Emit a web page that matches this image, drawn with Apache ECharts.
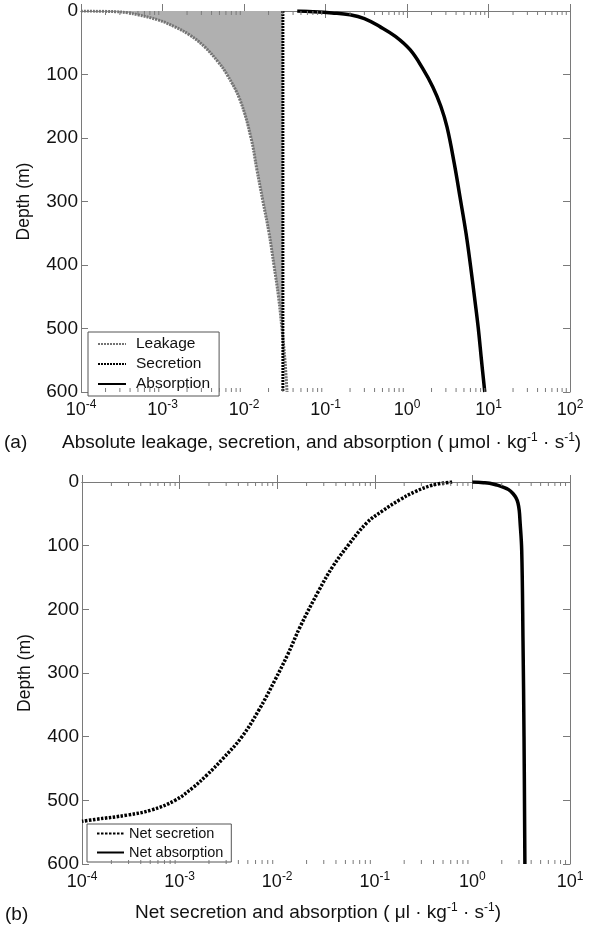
<!DOCTYPE html>
<html>
<head>
<meta charset="utf-8">
<script src="https://cdn.jsdelivr.net/npm/echarts@6/dist/echarts.min.js"></script>
<style>html,body{margin:0;padding:0;background:#fff}#c{width:600px;height:935px}</style>
</head>
<body>
<div id="c"></div>
<script>
// ---- Panel (a) data ----
const depthsLeak = [0, 1, 3, 6, 14, 25, 38, 57, 80, 100, 140, 200, 250, 300, 350, 400, 450, 500, 550, 600];
const leakage = [1.0e-4, 2.6e-4, 3.8e-4, 5.0e-4, 8.8e-4, 1.42e-3, 2.17e-3, 3.32e-3, 4.8e-3, 6.18e-3, 8.93e-3, 0.0122, 0.0144, 0.0171, 0.0203, 0.0233, 0.0265, 0.0292, 0.0318, 0.0337];
const depthsSec = [0, 600];
const secretion = [0.030, 0.030];
const depthsAbs = [0, 1, 3, 6, 12, 25, 40, 61, 90, 120, 150, 183, 240, 293, 350, 400, 455, 500, 550, 600];
const absorption = [0.045, 0.07, 0.12, 0.20, 0.30, 0.47, 0.72, 1.09, 1.55, 2.08, 2.6, 3.1, 3.8, 4.47, 5.3, 6.0, 6.8, 7.5, 8.2, 9.0];
// ---- Panel (b) data ----
const depthsNetSec = [0, 5, 15, 28, 45, 64, 100, 133, 170, 228, 270, 311, 358, 400, 436, 460, 480, 500, 515, 523, 530, 533];
const netSecretion = [0.62, 0.39, 0.26, 0.18, 0.121, 0.083, 0.053, 0.037, 0.0268, 0.0171, 0.0129, 0.0095, 0.0065, 0.00436, 0.00272, 0.00191, 0.00137, 0.0009, 0.00052, 0.000296, 0.000136, 0.0001];
const depthsNetAbs = [0, 1, 2, 5, 8, 12, 18, 25, 33, 45, 60, 107, 250, 400, 600];
const netAbsorption = [1.0, 1.3, 1.5, 1.8, 2.06, 2.35, 2.6, 2.8, 2.93, 3.02, 3.07, 3.2, 3.3, 3.38, 3.45];
// ---- axes ----
const depthTicks = [0, 100, 200, 300, 400, 500, 600];
const xRangeA = [1e-4, 1e2];
const xRangeB = [1e-4, 1e1];
const minorMultipliers = [2, 3, 4, 5, 6, 7, 8, 9];

function minorTicks(range) {
  const out = [];
  const lo = Math.round(Math.log10(range[0])), hi = Math.round(Math.log10(range[1]));
  for (let k = lo; k < hi; k++) minorMultipliers.forEach(m => out.push([m * Math.pow(10, k), 0]));
  return out;
}
function pairs(xs, ys) { return xs.map((x, i) => [x, ys[i]]); }

const FONT = "'Liberation Sans', Arial, sans-serif";
const AX = '#7a7a7a';
const TXT = '#111';
const labelRich = {
  b: { fontSize: 18, fontFamily: FONT, color: TXT },
  s: { fontSize: 12, fontFamily: FONT, color: TXT, padding: [0, 0, 10, 0] }
};
function xLabel(v) { const e = Math.round(Math.log10(v)); return '{b|10}{s|' + e + '}'; }

function xAxes(grid, range) {
  return [
    { type: 'log', logBase: 10, gridIndex: grid, min: range[0], max: range[1], position: 'bottom',
      axisLine: { lineStyle: { color: AX } }, axisTick: { inside: true, length: 7, lineStyle: { color: AX } },
      splitLine: { show: false }, axisLabel: { formatter: xLabel, rich: labelRich, margin: 7 } },
    { type: 'log', logBase: 10, gridIndex: grid, min: range[0], max: range[1], position: 'top',
      axisLine: { lineStyle: { color: AX } }, axisTick: { inside: true, length: 7, lineStyle: { color: AX } },
      splitLine: { show: false }, axisLabel: { show: false } }
  ];
}
function yAxes(grid) {
  return [
    { type: 'value', gridIndex: grid, inverse: true, min: depthTicks[0], max: depthTicks[depthTicks.length - 1], interval: 100,
      position: 'left', name: 'Depth (m)', nameLocation: 'middle', nameGap: 48,
      nameTextStyle: { fontSize: 17.5, fontFamily: FONT, color: TXT },
      axisLine: { show: true, lineStyle: { color: AX } }, axisTick: { show: true, inside: true, length: 7, lineStyle: { color: AX } },
      splitLine: { show: false }, axisLabel: { fontSize: 19, fontFamily: FONT, color: TXT, margin: 3 } },
    { type: 'value', gridIndex: grid, inverse: true, min: depthTicks[0], max: depthTicks[depthTicks.length - 1], interval: 100,
      position: 'right',
      axisLine: { show: true, lineStyle: { color: AX } }, axisTick: { show: true, inside: true, length: 7, lineStyle: { color: AX } },
      splitLine: { show: false }, axisLabel: { show: false } }
  ];
}
function minorTickSeries(xi, yi, range) {
  return {
    type: 'custom', xAxisIndex: xi, yAxisIndex: yi, silent: true, z: 5,
    data: minorTicks(range), encode: { x: 0, y: 1 },
    renderItem: function (params, api) {
      const v = api.value(0);
      const pb = api.coord([v, depthTicks[depthTicks.length - 1]]);
      const pt = api.coord([v, depthTicks[0]]);
      const st = { stroke: AX, lineWidth: 1 };
      return { type: 'group', children: [
        { type: 'line', shape: { x1: pb[0], y1: pb[1], x2: pb[0], y2: pb[1] - 4 }, style: st },
        { type: 'line', shape: { x1: pt[0], y1: pt[1], x2: pt[0], y2: pt[1] + 4 }, style: st }
      ] };
    }
  };
}

const chart = echarts.init(document.getElementById('c'), null, { renderer: 'canvas' });
const option = {
  animation: false,
  backgroundColor: '#fff',
  grid: [
    { left: 81, top: 11, width: 489, height: 381 },
    { left: 82, top: 482, width: 488, height: 382 }
  ],
  xAxis: [].concat(xAxes(0, xRangeA), xAxes(1, xRangeB)),
  yAxis: [].concat(yAxes(0), yAxes(1)),
  legend: [
    { data: ['Leakage', 'Secretion', 'Absorption'], orient: 'vertical', left: 88, top: 332,
      backgroundColor: '#fff', borderColor: '#555', borderWidth: 1, padding: [4, 9, 4, 9],
      itemWidth: 28, itemHeight: 14, itemGap: 4, selectedMode: false,
      itemStyle: { opacity: 0 },
      textStyle: { fontSize: 15.5, fontFamily: FONT, color: TXT, padding: [0, 0, 0, 5] } },
    { data: ['Net secretion', 'Net absorption'], orient: 'vertical', left: 87, top: 824,
      backgroundColor: '#fff', borderColor: '#555', borderWidth: 1, padding: [2, 8, 2, 9],
      itemWidth: 27, itemHeight: 13, itemGap: 4, selectedMode: false,
      itemStyle: { opacity: 0 },
      textStyle: { fontSize: 14.5, fontFamily: FONT, color: TXT } }
  ],
  series: [
    { type: 'custom', name: 'fill', xAxisIndex: 0, yAxisIndex: 0, silent: true, z: 1,
      data: [[secretion[0], 0]], encode: { x: 0, y: 1 },
      renderItem: function (params, api) {
        const pts = leakage.map((v, i) => api.coord([Math.min(v, secretion[0]), depthsLeak[i]]));
        for (let i = depthsSec.length - 1; i >= 0; i--) pts.push(api.coord([secretion[i], depthsSec[i]]));
        return { type: 'polygon', shape: { points: pts }, style: { fill: '#b0b0b0' } };
      } },
    { type: 'line', name: 'Leakage', xAxisIndex: 0, yAxisIndex: 0, data: pairs(leakage, depthsLeak),
      showSymbol: false, symbol: 'none', smooth: 0.4, z: 3,
      lineStyle: { color: '#747474', width: 3, type: [2, 1] }, itemStyle: { color: '#747474' } },
    { type: 'line', name: 'Secretion', xAxisIndex: 0, yAxisIndex: 0, data: pairs(secretion, depthsSec),
      showSymbol: false, symbol: 'none', z: 4,
      lineStyle: { color: '#000', width: 3, type: [2, 1] }, itemStyle: { color: '#000' } },
    { type: 'line', name: 'Absorption', xAxisIndex: 0, yAxisIndex: 0, data: pairs(absorption, depthsAbs),
      showSymbol: false, symbol: 'none', smooth: 0.4, z: 3,
      lineStyle: { color: '#000', width: 3.5 }, itemStyle: { color: '#000' } },
    minorTickSeries(0, 0, xRangeA),
    { type: 'line', name: 'Net secretion', xAxisIndex: 2, yAxisIndex: 2, data: pairs(netSecretion, depthsNetSec),
      showSymbol: false, symbol: 'none', smooth: 0.4, z: 3,
      lineStyle: { color: '#000', width: 3.5, type: [2.5, 1.5] }, itemStyle: { color: '#000' } },
    { type: 'line', name: 'Net absorption', xAxisIndex: 2, yAxisIndex: 2, data: pairs(netAbsorption, depthsNetAbs),
      showSymbol: false, symbol: 'none', smooth: 0.4, z: 3,
      lineStyle: { color: '#000', width: 3.5 }, itemStyle: { color: '#000' } },
    minorTickSeries(2, 2, xRangeB)
  ],
  graphic: [
    { type: 'text', x: 4, y: 443, style: { text: '(a)', fontSize: 19, fontFamily: FONT, fill: TXT, verticalAlign: 'middle' } },
    { type: 'text', x: 62, y: 443, style: { text: 'Absolute leakage, secretion, and absorption ( μmol · kg{s|-1} · s{s|-1})',
        fontSize: 19, fontFamily: FONT, fill: TXT, verticalAlign: 'middle',
        rich: { s: { fontSize: 12, fontFamily: FONT, fill: TXT, padding: [0, 0, 10, 0] } } } },
    { type: 'text', x: 5, y: 915, style: { text: '(b)', fontSize: 19, fontFamily: FONT, fill: TXT, verticalAlign: 'middle' } },
    { type: 'text', x: 135, y: 913, style: { text: 'Net secretion and absorption ( μl · kg{s|-1} · s{s|-1})',
        fontSize: 19, fontFamily: FONT, fill: TXT, verticalAlign: 'middle',
        rich: { s: { fontSize: 12, fontFamily: FONT, fill: TXT, padding: [0, 0, 10, 0] } } } }
  ]
};
chart.setOption(option);
</script>
</body>
</html>
